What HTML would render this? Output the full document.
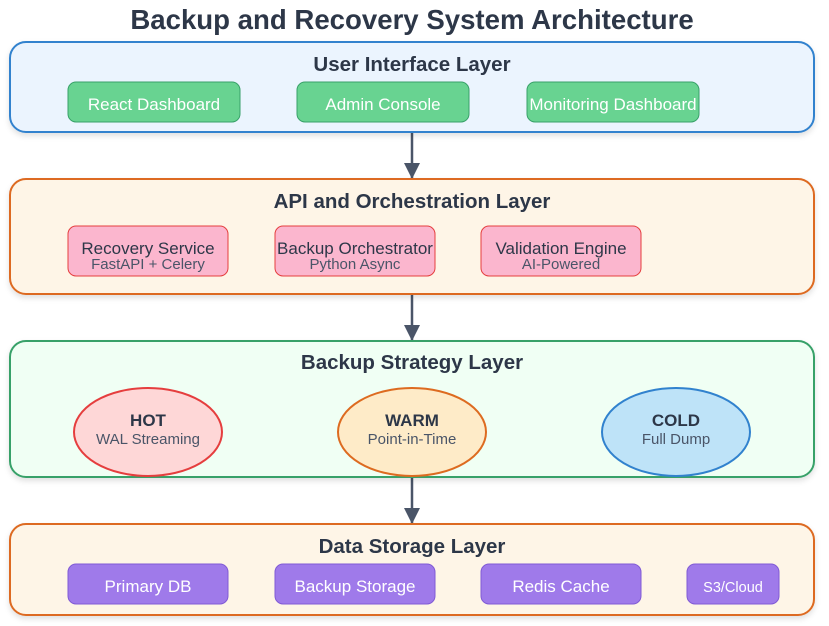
<!DOCTYPE html>
<html><head><meta charset="utf-8"><style>body{margin:0;background:#fff}svg{display:block}text{font-family:"Liberation Sans",Arial,sans-serif}</style></head>
<body>
<svg width="829" height="626" viewBox="0 0 829 626" xmlns="http://www.w3.org/2000/svg">
<defs>
<marker id="a" markerWidth="14" markerHeight="16" refX="15" refY="8" orient="auto" markerUnits="userSpaceOnUse"><path d="M0,0 L16,8 L0,16 z" fill="#4a5568"/></marker>
<filter id="s" x="-5%" y="-10%" width="110%" height="130%"><feDropShadow dx="0" dy="3" stdDeviation="3" flood-opacity="0.12"/></filter>
</defs>
<text x="412" y="29" text-anchor="middle" font-size="27.6" font-weight="bold" fill="#2d3748">Backup and Recovery System Architecture</text>

<g stroke="#4a5568" stroke-width="2.5">
<line x1="412" y1="133" x2="412" y2="178" marker-end="url(#a)"/>
<line x1="412" y1="295" x2="412" y2="340" marker-end="url(#a)"/>
<line x1="412" y1="478" x2="412" y2="523" marker-end="url(#a)"/>
</g>

<rect x="10" y="42" width="804" height="90" rx="16" fill="#ebf4fe" stroke="#3182ce" stroke-width="2" filter="url(#s)"/>
<text x="412" y="71" text-anchor="middle" font-size="20.5" font-weight="bold" fill="#2d3748">User Interface Layer</text>
<g fill="#68d391" stroke="#38a169" stroke-width="1">
<rect x="68" y="82" width="172" height="40" rx="8"/><rect x="297" y="82" width="172" height="40" rx="8"/><rect x="527" y="82" width="172" height="40" rx="8"/></g>
<g fill="#fff" font-size="17" text-anchor="middle"><text x="154" y="110">React Dashboard</text><text x="383" y="110">Admin Console</text><text x="613" y="110">Monitoring Dashboard</text></g>

<rect x="10" y="179" width="804" height="115" rx="16" fill="#fef5e7" stroke="#dd6b20" stroke-width="2" filter="url(#s)"/>
<text x="412" y="208" text-anchor="middle" font-size="20.5" font-weight="bold" fill="#2d3748">API and Orchestration Layer</text>
<g fill="#fbb6ce" stroke="#e53e3e" stroke-width="1">
<rect x="68" y="226" width="160" height="50" rx="8"/><rect x="275" y="226" width="160" height="50" rx="8"/><rect x="481" y="226" width="160" height="50" rx="8"/></g>
<g fill="#2d3748" font-size="17" text-anchor="middle"><text x="148" y="254">Recovery Service</text><text x="355" y="254">Backup Orchestrator</text><text x="561" y="254">Validation Engine</text></g>
<g fill="#4a5568" font-size="15" text-anchor="middle"><text x="148" y="269">FastAPI + Celery</text><text x="355" y="269">Python Async</text><text x="561" y="269">AI-Powered</text></g>

<rect x="10" y="341" width="804" height="136" rx="16" fill="#f0fff4" stroke="#38a169" stroke-width="2" filter="url(#s)"/>
<text x="412" y="369" text-anchor="middle" font-size="20.5" font-weight="bold" fill="#2d3748">Backup Strategy Layer</text>
<ellipse cx="148" cy="432" rx="74" ry="44" fill="#fed7d7" stroke="#e53e3e" stroke-width="2"/>
<ellipse cx="412" cy="432" rx="74" ry="44" fill="#feebc8" stroke="#dd6b20" stroke-width="2"/>
<ellipse cx="676" cy="432" rx="74" ry="44" fill="#bee3f8" stroke="#3182ce" stroke-width="2"/>
<g fill="#2d3748" font-size="17" font-weight="bold" text-anchor="middle"><text x="148" y="426">HOT</text><text x="412" y="426">WARM</text><text x="676" y="426">COLD</text></g>
<g fill="#4a5568" font-size="15" text-anchor="middle"><text x="148" y="444">WAL Streaming</text><text x="412" y="444">Point-in-Time</text><text x="676" y="444">Full Dump</text></g>

<rect x="10" y="524" width="804" height="91" rx="16" fill="#fef5e7" stroke="#dd6b20" stroke-width="2" filter="url(#s)"/>
<text x="412" y="553" text-anchor="middle" font-size="20.5" font-weight="bold" fill="#2d3748">Data Storage Layer</text>
<g fill="#9f7aea" stroke="#805ad5" stroke-width="1">
<rect x="68" y="564" width="160" height="40" rx="8"/><rect x="275" y="564" width="160" height="40" rx="8"/><rect x="481" y="564" width="160" height="40" rx="8"/><rect x="687" y="564" width="92" height="40" rx="8"/></g>
<g fill="#fff" font-size="17" text-anchor="middle"><text x="148" y="592">Primary DB</text><text x="355" y="592">Backup Storage</text><text x="561" y="592">Redis Cache</text><text x="733" y="592" font-size="14.5">S3/Cloud</text></g>
</svg>
</body></html>
